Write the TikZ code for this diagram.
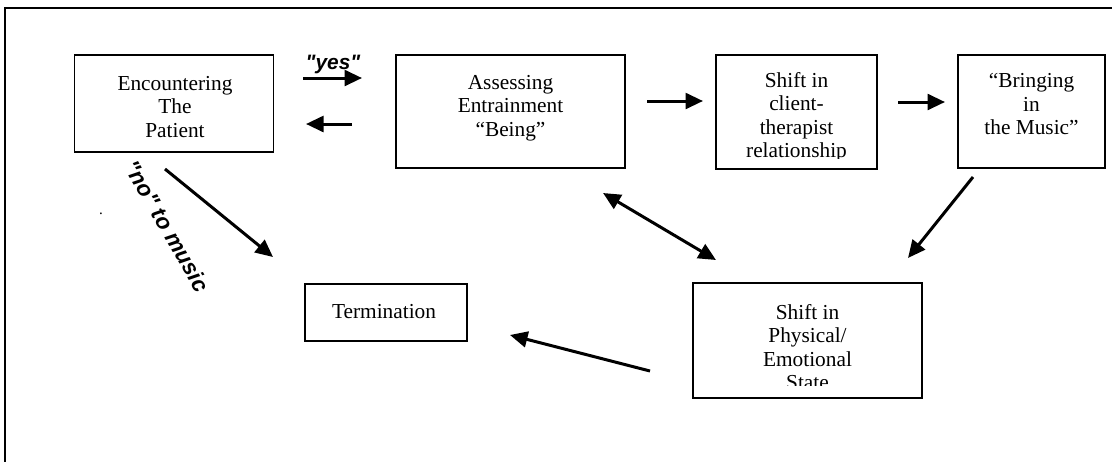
\documentclass[tikz,border=0pt]{standalone}
\usepackage{fontspec}
\setmainfont{Liberation Serif}
\newfontfamily\artfont{Liberation Sans}[Ligatures=TeXOff]
\usetikzlibrary{arrows.meta}

\begin{document}
\begin{tikzpicture}[x=0.6pt, y=-0.6pt, >={Triangle[length=10.5pt, width=9.5pt]},
    stage/.style={draw, line width=1.1pt, inner sep=0pt},
    words/.style={anchor=north, align=center, inner sep=0pt, font=\fontsize{12.8}{14.1}\selectfont},
    flow/.style={line width=1.8pt},
    wordart/.style={inner sep=0pt, font=\artfont\bfseries\itshape\fontsize{12.5}{14}\selectfont}]
    \useasboundingbox (0,0) rectangle (1112,462);
    \draw [line width=1.1pt] (1112,8) -- (5,8) -- (5,462); % frame
    % top row
    \node [stage, minimum width=119.4pt, minimum height=58.2pt] (enc) at (174,103.5) {};
    \node [words] (enc-t) at (175,76) {Encountering\\The\\Patient};
    \node [stage, minimum width=137.4pt, minimum height=67.8pt] (ass) at (510.5,111.5) {};
    \node [words] (ass-t) at (510.5,75) {Assessing\\Entrainment\\“Being”};
    \node [stage, minimum width=96.6pt, minimum height=68.4pt] (cli) at (796.5,112) {};
    \begin{scope}
        \clip (716,55) rectangle (877,158);
        \node [words] (cli-t) at (796.5,72) {Shift in\\client-\\therapist\\relationship};
    \end{scope}
    \node [stage, minimum width=88.2pt, minimum height=67.8pt] (mus) at (1031.5,111.5) {};
    \node [words] (mus-t) at (1031.5,73) {“Bringing\\in\\the Music”};
    % bottom row
    \node [stage, minimum width=97.2pt, minimum height=34.2pt] (term) at (386,312.5) {};
    \node [words] (term-t) at (384,304) {Termination};
    \node [stage, minimum width=137.4pt, minimum height=69pt] (sta) at (807.5,340.5) {};
    \begin{scope}
        \clip (693,283) rectangle (922,385);
        \node [words] (sta-t) at (807.5,304) {Shift in\\Physical/\\Emotional\\State};
    \end{scope}
    % labels
    \node [wordart] (yes) at (333,64) {"yes"};
    \node [wordart, font=\artfont\bfseries\itshape\fontsize{13.5}{15}\selectfont, rotate=-60] (no) at (167,226) {"no" to music};
    \node [inner sep=0pt, font=\small] (dot) at (101,214) {.};
    % arrows
    \coordinate (yes-a) at (303,78);
    \coordinate (yes-b) at (362,78);
    \coordinate (back-a) at (352,124);
    \coordinate (back-b) at (306,124);
    \coordinate (ac-a) at (647,101);
    \coordinate (ac-b) at (703,101);
    \coordinate (cm-a) at (898,102);
    \coordinate (cm-b) at (945,102);
    \coordinate (et-a) at (165,169);
    \coordinate (et-b) at (273,257);
    \coordinate (as-a) at (603,193);
    \coordinate (as-b) at (716,260);
    \coordinate (ms-a) at (973,177);
    \coordinate (ms-b) at (908,258);
    \coordinate (st-a) at (650,371);
    \coordinate (st-b) at (510,335);
    \draw [flow, ->] (yes-a) to (yes-b);
    \draw [flow, ->] (back-a) to (back-b);
    \draw [flow, ->] (ac-a) to (ac-b);
    \draw [flow, ->] (cm-a) to (cm-b);
    \draw [flow, ->] (et-a) to (et-b);
    \draw [flow, <->] (as-a) to (as-b);
    \draw [flow, ->] (ms-a) to (ms-b);
    \draw [flow, ->] (st-a) to (st-b);
\end{tikzpicture}
\end{document}
